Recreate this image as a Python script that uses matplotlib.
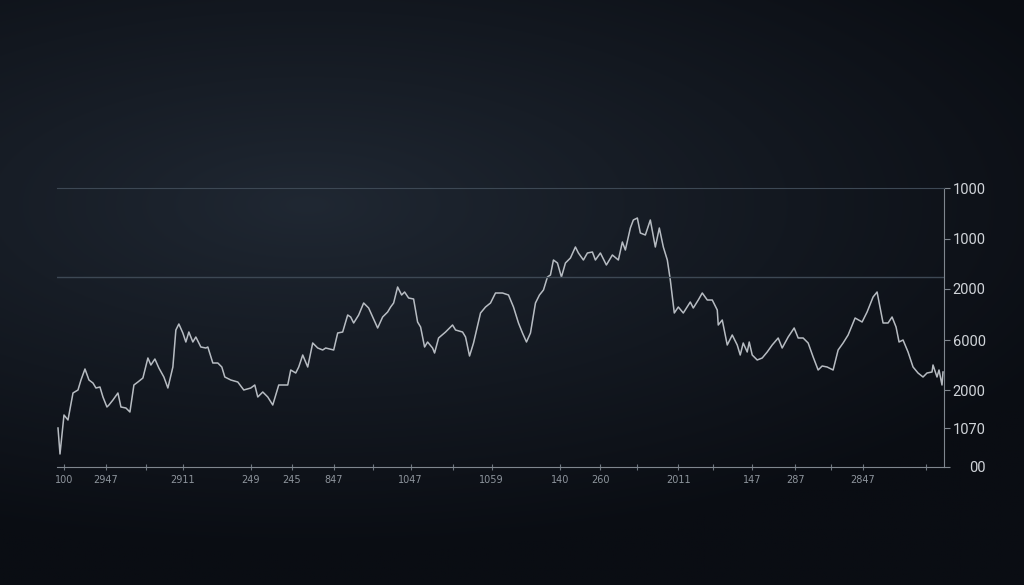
import numpy as np
import matplotlib
matplotlib.use("Agg")
import matplotlib.pyplot as plt

# serie (dia, valor)
dias = [0, 2, 6, 10, 15, 20, 23, 27, 31, 35, 38, 42, 45, 49, 51, 55, 60, 63, 68, 72,
        76, 80, 85, 90, 93, 97, 101, 106, 110, 115, 118, 121, 125, 128, 131, 135, 138, 143, 148, 150,
        155, 160, 164, 167, 173, 180, 186, 193, 197, 200, 205, 210, 215, 218, 221, 230, 233, 238, 241, 245,
        250, 255, 260, 265, 268, 276, 280, 285, 290, 293, 296, 301, 306, 311, 320, 325, 330, 333, 336, 340,
        344, 347, 351, 356, 360, 363, 367, 370, 375, 377, 381, 388, 395, 398, 405, 408, 412, 416, 423, 428,
        433, 438, 445, 451, 456, 461, 465, 469, 473, 478, 482, 486, 490, 493, 496, 500, 504, 508, 513, 518,
        521, 526, 530, 535, 538, 543, 549, 555, 561, 565, 568, 573, 576, 580, 583, 588, 593, 598, 602, 606,
        610, 613, 617, 621, 626, 633, 636, 641, 645, 650, 655, 660, 661, 665, 670, 675, 680, 683, 686, 690,
        692, 695, 700, 705, 710, 715, 721, 725, 731, 737, 741, 746, 751, 756, 761, 765, 770, 776, 781, 786,
        791, 798, 805, 810, 816, 820, 826, 831, 835, 839, 842, 846, 851, 856, 861, 866, 870, 875, 876, 880,
        882, 885, 886]
valores = [39, 13, 52, 47, 74, 77, 87, 98, 87, 84, 79, 80, 70, 60, 62, 67, 74, 60, 59, 55,
           82, 85, 89, 109, 102, 108, 99, 90, 79, 100, 137, 143, 134, 125, 135, 125, 130, 120, 119, 120,
           104, 104, 100, 90, 87, 85, 77, 79, 82, 70, 75, 70, 62, 72, 82, 82, 97, 94, 100, 112,
           100, 124, 119, 117, 119, 117, 134, 135, 152, 150, 144, 152, 164, 159, 139, 150, 155, 160, 164, 180,
           172, 175, 169, 168, 145, 140, 120, 125, 119, 114, 129, 135, 142, 137, 135, 130, 111, 124, 154, 160,
           164, 174, 174, 172, 160, 144, 134, 125, 134, 164, 172, 177, 190, 192, 207, 204, 190, 204, 209, 220,
           214, 207, 214, 215, 207, 214, 202, 212, 207, 225, 217, 239, 247, 249, 234, 232, 247, 220, 239, 220,
           207, 187, 154, 160, 154, 165, 159, 167, 174, 167, 167, 157, 142, 147, 122, 132, 122, 112, 124, 115,
           125, 112, 107, 109, 115, 122, 129, 119, 130, 139, 129, 129, 124, 110, 97, 101, 100, 97, 117, 124,
           132, 149, 145, 155, 170, 175, 144, 144, 150, 140, 125, 127, 115, 100, 94, 90, 94, 95, 102, 90,
           97, 82, 95]

# ejes (etiquetas tal como aparecen)
pos_y = [279, 228, 178, 127, 77, 39, 0]
etiquetas_y = ["1000", "1000", "2000", "6000", "2000", "1070", "00"]
pos_x = [6, 48, 88, 125, 193, 234, 276, 315, 353, 395, 434, 503, 543, 580, 621, 656, 695, 738, 774, 806, 869]
etiquetas_x = ["100", "2947", "", "2911", "249", "245", "847", "", "1047", "", "1059",
               "140", "260", "", "2011", "", "147", "287", "", "2847", ""]

fig = plt.figure(figsize=(10.24, 5.85), dpi=100)

# fondo con degradado oscuro
fondo = fig.add_axes([0, 0, 1, 1])
yy, xx = np.mgrid[0:1:300j, 0:1:500j]
d = np.sqrt(((xx - 0.3) / 1.2) ** 2 + ((yy - 0.35) / 0.85) ** 2)
t = np.clip(d / 0.7, 0, 1) ** 0.9
c0 = np.array([32, 40, 51]) / 255
c1 = np.array([10, 13, 19]) / 255
img = c0[None, None, :] * (1 - t[..., None]) + c1[None, None, :] * t[..., None]
fondo.imshow(img, aspect="auto", extent=[0, 1, 1, 0])
fondo.axis("off")

ax = fig.add_axes([57 / 1024, 1 - 467 / 585, 887 / 1024, 279 / 585])
ax.patch.set_alpha(0)
ax.plot(dias, valores, color="#c9ced4", lw=1.1, alpha=0.9)
ax.set_xlim(-1, 887)
ax.set_ylim(0, 279)

ax.axhline(190, color="#3d4854", lw=1)

ax.spines["left"].set_visible(False)
ax.spines["top"].set_color("#3d4854")
ax.spines["right"].set_color("#7f868e")
ax.spines["bottom"].set_color("#7f868e")

ax.yaxis.tick_right()
ax.set_yticks(pos_y)
ax.set_yticklabels(etiquetas_y, fontfamily="Roboto")
ax.tick_params(axis="y", colors="#7f868e", labelcolor="#d0d4d9", labelsize=10.5, length=4, pad=26)
for lab in ax.get_yticklabels():
    lab.set_horizontalalignment("right")

ax.set_xticks(pos_x)
ax.set_xticklabels(etiquetas_x)
ax.tick_params(axis="x", colors="#6f7780", labelcolor="#8e959d", labelsize=7, length=5,
               direction="inout", pad=3)

fig.savefig("out.png", dpi=100)
